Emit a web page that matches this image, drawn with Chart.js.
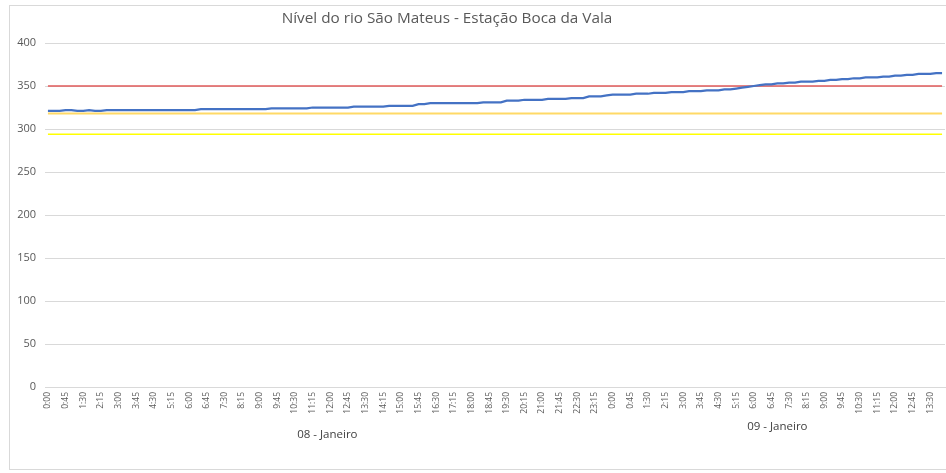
<!DOCTYPE html>
<html>
<head>
<meta charset="utf-8">
<script src="https://cdn.jsdelivr.net/npm/chart.js@4.4.1/dist/chart.umd.min.js"></script>
<style>
  html, body { margin: 0; padding: 0; background: #fff; }
  #wrap { position: relative; width: 946px; height: 473px; overflow: hidden; }
  #frame { position: absolute; left: 9px; top: 5px; width: 950px; height: 463px;
           border-left: 1px solid #d9d9d9; border-top: 1px solid #d9d9d9; border-bottom: 1px solid #d9d9d9; }
  canvas { position: absolute; left: 0; top: 0; }
</style>
</head>
<body>
<div id="wrap">
  <div id="frame"></div>
  <canvas id="chart" width="946" height="473"></canvas>
</div>
<script>
const chartTitle = 'Nível do rio São Mateus - Estação Boca da Vala';

// 15-minute readings, 08 Jan 0:00 -> 09 Jan 14:00
const times = [
  '0:00','0:15','0:30','0:45','1:00','1:15','1:30','1:45','2:00','2:15','2:30','2:45',
  '3:00','3:15','3:30','3:45','4:00','4:15','4:30','4:45','5:00','5:15','5:30','5:45',
  '6:00','6:15','6:30','6:45','7:00','7:15','7:30','7:45','8:00','8:15','8:30','8:45',
  '9:00','9:15','9:30','9:45','10:00','10:15','10:30','10:45','11:00','11:15','11:30','11:45',
  '12:00','12:15','12:30','12:45','13:00','13:15','13:30','13:45','14:00','14:15','14:30','14:45',
  '15:00','15:15','15:30','15:45','16:00','16:15','16:30','16:45','17:00','17:15','17:30','17:45',
  '18:00','18:15','18:30','18:45','19:00','19:15','19:30','19:45','20:00','20:15','20:30','20:45',
  '21:00','21:15','21:30','21:45','22:00','22:15','22:30','22:45','23:00','23:15','23:30','23:45',
  '0:00','0:15','0:30','0:45','1:00','1:15','1:30','1:45','2:00','2:15','2:30','2:45',
  '3:00','3:15','3:30','3:45','4:00','4:15','4:30','4:45','5:00','5:15','5:30','5:45',
  '6:00','6:15','6:30','6:45','7:00','7:15','7:30','7:45','8:00','8:15','8:30','8:45',
  '9:00','9:15','9:30','9:45','10:00','10:15','10:30','10:45','11:00','11:15','11:30','11:45',
  '12:00','12:15','12:30','12:45','13:00','13:15','13:30','13:45','14:00'
];

const days = [
  { label: '08 - Janeiro', first: 0, last: 95 },
  { label: '09 - Janeiro', first: 96, last: 152 }
];

const nivel = [
  321,321,321,322,322,321,321,322,321,321,322,322,
  322,322,322,322,322,322,322,322,322,322,322,322,
  322,322,323,323,323,323,323,323,323,323,323,323,
  323,323,324,324,324,324,324,324,324,325,325,325,
  325,325,325,325,326,326,326,326,326,326,327,327,
  327,327,327,329,329,330,330,330,330,330,330,330,
  330,330,331,331,331,331,333,333,333,334,334,334,
  334,335,335,335,335,336,336,336,338,338,338,339,
  340,340,340,340,341,341,341,342,342,342,343,343,
  343,344,344,344,345,345,345,346,346,347,348,349,
  350,351,352,352,353,353,354,354,355,355,355,356,
  356,357,357,358,358,359,359,360,360,360,361,361,
  362,362,363,363,364,364,364,365,365
];

// reference levels
const cotaAlerta = 350;
const cotaAtencao = 318;
const cotaNormal = 294;

const yTicks = [0, 50, 100, 150, 200, 250, 300, 350, 400];

function flat(v) {
  return times.map(() => v);
}

const extras = {
  id: 'extras',
  afterDraw(chart) {
    const ctx = chart.ctx;
    const x = chart.scales.x;
    ctx.save();
    ctx.fillStyle = '#595959';
    ctx.font = '15.3px "Open Sans"';
    ctx.textAlign = 'center';
    ctx.textBaseline = 'middle';
    ctx.fillText(chartTitle, 447, 19);

    ctx.fillStyle = '#404040';
    ctx.font = '11.5px "Open Sans"';
    const ys = [435, 427];
    days.forEach((d, i) => {
      const px = (x.getPixelForValue(d.first) + x.getPixelForValue(d.last)) / 2;
      ctx.fillText(d.label, px, ys[i]);
    });
    ctx.restore();
  }
};

const ctx = document.getElementById('chart').getContext('2d');

new Chart(ctx, {
  type: 'line',
  data: {
    labels: times,
    datasets: [
      { label: 'Nível', data: nivel, borderColor: '#4472C4', borderWidth: 2.25, pointRadius: 0, tension: 0, order: 0 },
      { label: 'Alerta', data: flat(cotaAlerta), borderColor: '#E05A5A', borderWidth: 1.5, pointRadius: 0, order: 1 },
      { label: 'Atenção', data: flat(cotaAtencao), borderColor: '#FFD966', borderWidth: 2, pointRadius: 0, order: 2 },
      { label: 'Normal', data: flat(cotaNormal), borderColor: '#FFFF00', borderWidth: 1.5, pointRadius: 0, order: 3 }
    ]
  },
  options: {
    responsive: false,
    animation: false,
    layout: { padding: { top: 43, left: 0, right: 1, bottom: 0 } },
    plugins: {
      legend: { display: false },
      tooltip: { enabled: false },
      title: { display: false }
    },
    scales: {
      x: {
        type: 'category',
        offset: true,
        grid: { display: false, drawTicks: false },
        border: { display: true, color: '#d9d9d9' },
        ticks: {
          autoSkip: false,
          maxRotation: 90,
          minRotation: 90,
          padding: 5,
          color: '#595959',
          font: { family: '"Open Sans"', size: 8.5 },
          callback: (v, i) => (i % 3 === 0 ? times[i] : '')
        },
        afterFit: s => { s.height = 86; s.paddingLeft = 0; s.paddingRight = 0; }
      },
      y: {
        min: 0,
        max: 400,
        afterBuildTicks: s => { s.ticks = yTicks.map(v => ({ value: v })); },
        grid: { color: '#d9d9d9', drawTicks: false },
        border: { display: false },
        ticks: {
          padding: 9,
          color: '#595959',
          font: { family: '"Open Sans"', size: 11 }
        },
        afterFit: s => { s.width = 45; }
      }
    }
  },
  plugins: [extras]
});
</script>
</body>
</html>
